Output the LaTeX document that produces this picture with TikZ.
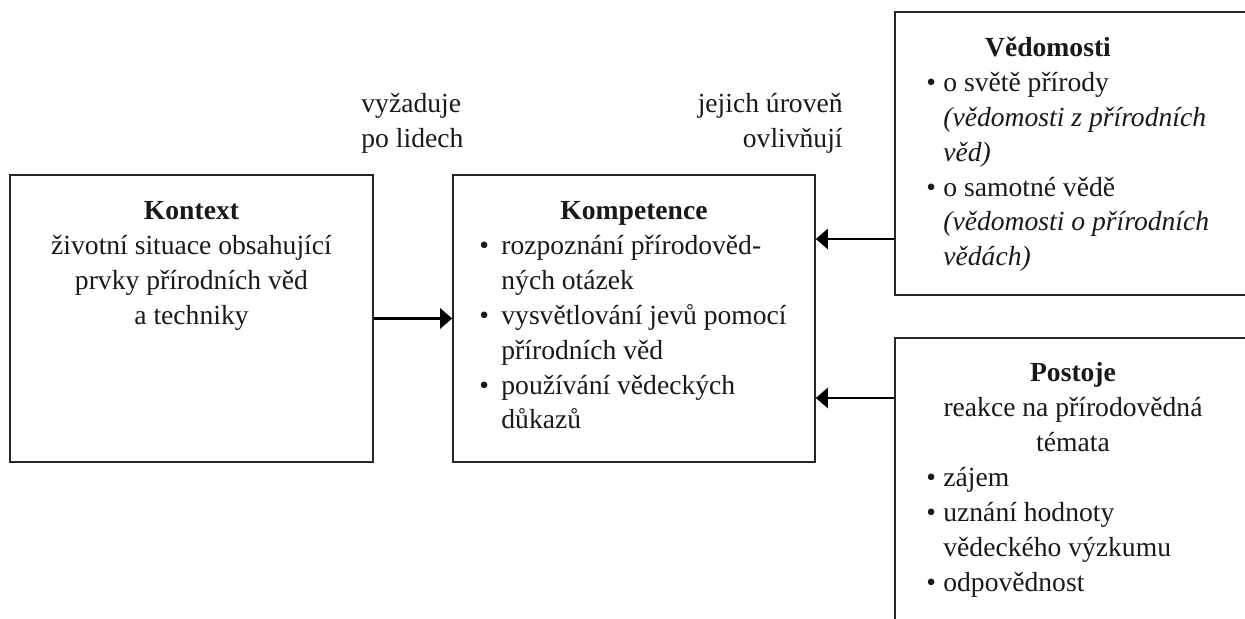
\documentclass[tikz,border=0pt]{standalone}
\usepackage{fontspec}
\setmainfont{Liberation Serif}
\usetikzlibrary{arrows.meta}
\newcommand{\bl}[1]{\makebox[#1][l]{\textbullet}}
\begin{document}
\begin{tikzpicture}[x=0.5pt,y=-0.5pt,
  box/.style={draw=black!85, line width=0.8pt, inner sep=0pt},
  txt/.style={font=\fontsize{13.8}{17.4}\selectfont, inner sep=0pt, text=black!90},
  arr/.style={line width=1.3pt, -{Triangle[length=6pt,width=10pt]}}]
\path[use as bounding box, clip] (0,0) rectangle (1245,619);
% boxes
\node[box, minimum width=181.5pt, minimum height=143.5pt] (kontext) at (191.5,318.5) {};
\node[box, minimum width=181pt, minimum height=143.5pt] (kompetence) at (634,318.5) {};
\node[box, minimum width=185pt, minimum height=141.5pt] (vedomosti) at (1080,153.5) {};
\node[box, minimum width=185pt, minimum height=151pt] (postoje) at (1080,489) {};
% texts (multi-line nodes are anchored at the baseline of their last line)
\node[txt, align=center, anchor=base] (tkontext) at (191.5,324.4)
  {\textbf{Kontext}\\životní situace obsahující\\prvky přírodních věd\\a techniky};
\node[txt, anchor=base] (tkomp) at (634,220) {\textbf{Kompetence}};
\node[txt, align=left, anchor=base west] (lkomp) at (479,428.8)
  {\bl{11pt}rozpoznání přírodověd-\\\hspace*{11pt}ných otázek\\
   \bl{11pt}vysvětlování jevů pomocí\\\hspace*{11pt}přírodních věd\\
   \bl{11pt}používání vědeckých\\\hspace*{11pt}důkazů};
\node[txt, anchor=base] (tved) at (1048,57) {\textbf{Vědomosti}};
\node[txt, align=left, anchor=base west] (lved) at (926,265.8)
  {\bl{8.5pt}o světě přírody\\\hspace*{8.5pt}\textit{(vědomosti z přírodních}\\
   \hspace*{8.5pt}\textit{věd)}\\
   \bl{8.5pt}o samotné vědě\\\hspace*{8.5pt}\textit{(vědomosti o přírodních}\\
   \hspace*{8.5pt}\textit{vědách)}};
\node[txt, align=center, anchor=base] (tpost) at (1073,451.6)
  {\textbf{Postoje}\\reakce na přírodovědná\\témata};
\node[txt, align=left, anchor=base west] (lpost) at (926,591)
  {\bl{8.5pt}zájem\\\bl{8.5pt}uznání hodnoty\\\hspace*{8.5pt}vědeckého výzkumu\\\bl{8.5pt}odpovědnost};
% labels
\node[txt, align=left, anchor=base west] (lab1) at (361,147.8) {vyžaduje\\po lidech};
\node[txt, align=right, anchor=base east] (lab2) at (843,147.8) {jejich úroveň\\ovlivňují};
% connectors
\coordinate (a1) at (0,239);
\coordinate (a2) at (0,398);
\draw[arr] (kontext) -- (kompetence);
\draw[arr] (vedomosti.west |- a1) -- (kompetence.east |- a1);
\draw[arr] (postoje.west |- a2) -- (kompetence.east |- a2);
\end{tikzpicture}
\end{document}
